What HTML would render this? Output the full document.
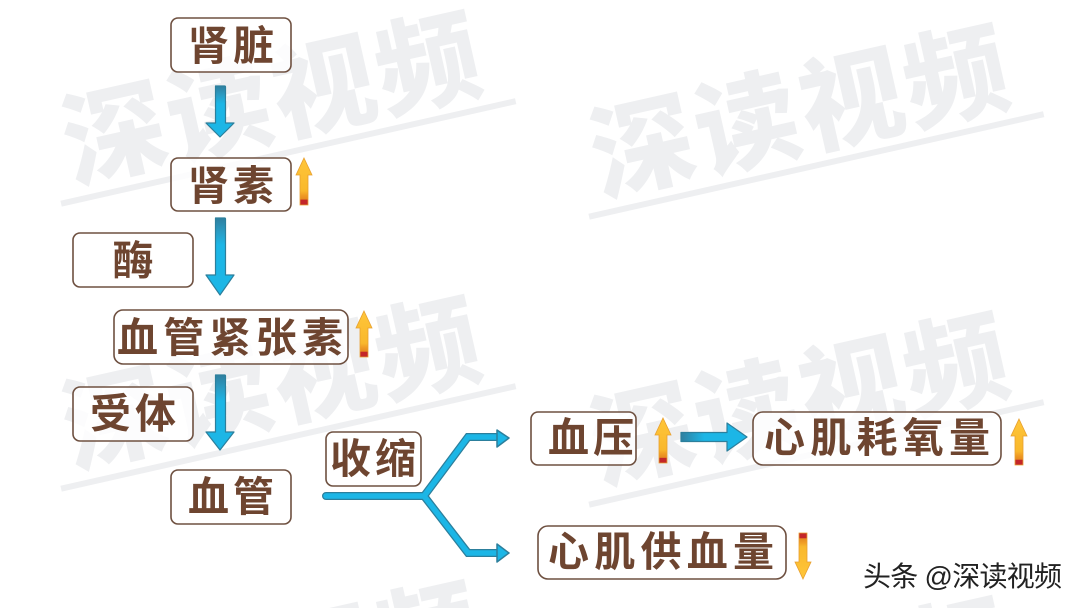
<!DOCTYPE html>
<html><head><meta charset="utf-8">
<style>
html,body{margin:0;padding:0;background:#fff;width:1080px;height:608px;overflow:hidden}
svg{display:block}
.wm{font-family:"Liberation Sans","Noto Sans CJK SC",sans-serif;font-weight:900;font-size:103px;fill:#eeeff1}
.t{font-family:"Liberation Sans","Noto Sans CJK SC",sans-serif;font-weight:700;font-size:41px;fill:#6e4530;text-anchor:middle}
.s{letter-spacing:4px}
.b{fill:#fff;fill-opacity:.82;stroke:#6e5040;stroke-width:1.6}
</style></head><body>
<svg width="1080" height="608" viewBox="0 0 1080 608" xmlns="http://www.w3.org/2000/svg">
<defs>
<linearGradient id="dn" x1="0" y1="0" x2="0" y2="1"><stop offset="0" stop-color="#2f7f9f"/><stop offset=".18" stop-color="#2a9cc4"/><stop offset=".35" stop-color="#1cb6e6"/><stop offset="1" stop-color="#1cb6e6"/></linearGradient>
<linearGradient id="rt" x1="0" y1="0" x2="1" y2="0"><stop offset="0" stop-color="#2f7f9f"/><stop offset=".35" stop-color="#1cb6e6"/></linearGradient>
<linearGradient id="up" x1="0" y1="0" x2="0" y2="1"><stop offset="0" stop-color="#ffc63a"/><stop offset=".7" stop-color="#f9b82c"/><stop offset=".8" stop-color="#ef9a24"/><stop offset=".88" stop-color="#e58a20"/><stop offset=".89" stop-color="#c3262a"/><stop offset="1" stop-color="#c3262a"/></linearGradient>
<linearGradient id="upd" x1="0" y1="1" x2="0" y2="0"><stop offset="0" stop-color="#ffc63a"/><stop offset=".7" stop-color="#f9b82c"/><stop offset=".8" stop-color="#ef9a24"/><stop offset=".88" stop-color="#e58a20"/><stop offset=".89" stop-color="#c3262a"/><stop offset="1" stop-color="#c3262a"/></linearGradient>
<g id="wmk">
<text class="wm" x="10" y="8" textLength="424" lengthAdjust="spacing">深读视频</text>
<rect x="-6" y="24" width="466" height="6" fill="#eeeff1"/>
</g>
</defs>
<g transform="translate(61,176) rotate(-12.7)"><use href="#wmk"/></g>
<g transform="translate(589,189) rotate(-12.7)"><use href="#wmk"/></g>
<g transform="translate(61,461) rotate(-12.7)"><use href="#wmk"/></g>
<g transform="translate(589,477) rotate(-12.7)"><use href="#wmk"/></g>
<g transform="translate(61,746) rotate(-12.7)"><use href="#wmk"/></g>
<g transform="translate(589,762) rotate(-12.7)"><use href="#wmk"/></g>

<rect class="b" x="171" y="18" width="120" height="54" rx="7"/>
<rect class="b" x="171" y="158" width="120" height="53" rx="7"/>
<rect class="b" x="73" y="233" width="120" height="54" rx="7"/>
<rect class="b" x="114" y="310" width="234" height="54" rx="9"/>
<rect class="b" x="73" y="387" width="120" height="54" rx="7"/>
<rect class="b" x="171" y="470" width="120" height="54" rx="7"/>
<rect class="b" x="326" y="432" width="95" height="54" rx="7"/>
<rect class="b" x="531" y="412" width="105" height="53" rx="7"/>
<rect class="b" x="753" y="412" width="248" height="53" rx="10"/>
<rect class="b" x="538" y="526" width="248" height="53" rx="10"/>

<text class="t s" x="233" y="60">肾脏</text>
<text class="t s" x="233" y="200">肾素</text>
<text class="t" x="133" y="275">酶</text>
<text class="t" x="230" y="352" textLength="226" lengthAdjust="spacing">血管紧张素</text>
<text class="t s" x="135" y="428">受体</text>
<text class="t s" x="233" y="511">血管</text>
<text class="t s" x="375" y="473">收缩</text>
<text class="t s" x="593" y="452">血压</text>
<text class="t" x="877" y="452" textLength="226" lengthAdjust="spacing">心肌耗氧量</text>
<text class="t" x="661" y="566" textLength="226" lengthAdjust="spacing">心肌供血量</text>

<!-- down arrows -->
<path d="M215.500 86h9a1 1 0 0 1 1 1v36h8.500L220 137 206 123h9.500V87z" fill="url(#dn)" stroke="#2c7f9c" stroke-width="1.200" stroke-linejoin="round"/>
<path d="M215.500 218h9a1 1 0 0 1 1 1v56h8.500L220 295 206 275h9.500V219z" fill="url(#dn)" stroke="#2c7f9c" stroke-width="1.200" stroke-linejoin="round"/>
<path d="M215.500 375h9a1 1 0 0 1 1 1v56h8.500L220 450 206 432h9.500V376z" fill="url(#dn)" stroke="#2c7f9c" stroke-width="1.200" stroke-linejoin="round"/>
<!-- right arrow -->
<path d="M681 432.500h46V423L747 437 727 451v-9.500h-46z" fill="url(#rt)" stroke="#2c7f9c" stroke-width="1.200" stroke-linejoin="round"/>
<!-- branch -->
<path d="M326 496H424L468 437H498M424 496L468 553H498" fill="none" stroke="#2c7f9c" stroke-width="8" stroke-linecap="round" stroke-linejoin="miter"/>
<path d="M326 496H424L468 437H498M424 496L468 553H498" fill="none" stroke="#1cb6e6" stroke-width="5.500" stroke-linecap="round" stroke-linejoin="miter"/>
<path d="M497 430L509 438L497 447Z" fill="#1cb6e6" stroke="#2c7f9c" stroke-width="1.500" stroke-linejoin="round"/>
<path d="M497 544L509 553L497 562Z" fill="#1cb6e6" stroke="#2c7f9c" stroke-width="1.500" stroke-linejoin="round"/>

<!-- up/down arrows -->
<path d="M304 158L312 175H308V205H300V175H296Z" fill="url(#up)" stroke="#e8a030" stroke-width=".8"/>
<path d="M364 311L372 328H368V357H360V328H356Z" fill="url(#up)" stroke="#e8a030" stroke-width=".8"/>
<path d="M663 418L671 435H667V463H659V435H655Z" fill="url(#up)" stroke="#e8a030" stroke-width=".8"/>
<path d="M1019 419L1027 436H1023V465H1015V436H1011Z" fill="url(#up)" stroke="#e8a030" stroke-width=".8"/>
<path d="M803 579L811 562H807V533H799V562H795Z" fill="url(#upd)" stroke="#e8a030" stroke-width=".8"/>

<text x="863" y="586" textLength="199" lengthAdjust="spacing" style="font-family:'Liberation Sans','Noto Sans CJK SC',sans-serif;font-size:28px;font-weight:400;paint-order:stroke;stroke:#fff;stroke-width:2px" fill="#222">头条 @深读视频</text>
</svg>
</body></html>
